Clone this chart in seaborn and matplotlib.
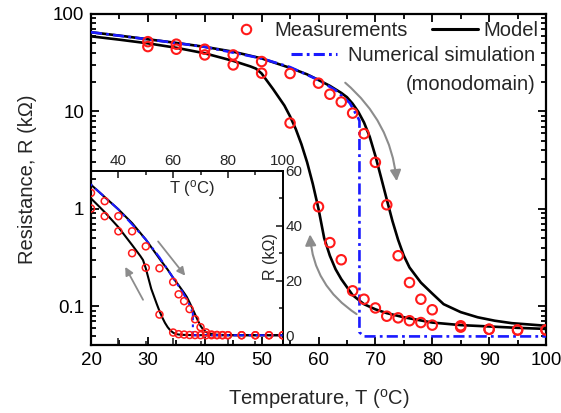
import numpy as np
import pandas as pd
import matplotlib
matplotlib.use("Agg")
import matplotlib.pyplot as plt
import seaborn as sns
from matplotlib.ticker import MultipleLocator, FixedLocator, LogLocator, FuncFormatter, NullFormatter
from matplotlib.lines import Line2D

# ---------------- data ----------------
heat_T = [30, 35, 40, 45, 50, 55, 60, 62, 64, 66, 68, 70, 72, 74, 76, 78, 80, 85, 90, 95, 100]
heat_R = [52, 49, 43.5, 38, 32.5, 24.5, 19.5, 15, 12.5, 9.6, 5.9, 3.0, 1.1, 0.33, 0.175, 0.118,
          0.092, 0.063, 0.058, 0.057, 0.057]
cool_T = [30, 35, 40, 45, 50, 55, 60, 62, 64, 66, 68, 70, 72, 74, 76, 78, 80, 85, 90, 95, 100]
cool_R = [46.3, 43.5, 38, 30, 24.7, 7.6, 1.05, 0.45, 0.30, 0.144, 0.118, 0.096, 0.079, 0.076,
          0.071, 0.068, 0.064, 0.061, 0.058, 0.057, 0.057]

model_heat_T = [20, 25, 30, 35, 40, 45, 50, 55, 58, 60, 62, 64, 65, 66, 67, 68, 69, 70, 71, 72,
                73, 74, 75, 76, 78, 80, 82, 85, 88, 91, 94, 97, 100]
model_heat_R = [65, 60, 55, 50.5, 46, 41, 35, 28, 24, 21, 18.3, 15.5, 14, 12, 9.9, 7.7, 5.5, 3.5,
                2.1, 1.25, 0.75, 0.48, 0.33, 0.25, 0.175, 0.135, 0.105, 0.087, 0.077, 0.071,
                0.067, 0.065, 0.063]
model_cool_T = [20, 25, 30, 35, 40, 45, 48, 49, 50, 52, 54, 55, 56, 57, 58, 59, 60, 61, 62, 63,
                64, 66, 68, 70, 72, 75, 80, 85, 90, 95, 100]
model_cool_R = [59, 54.5, 50, 45, 39.5, 33, 29, 27.5, 24.5, 17, 11.5, 8.9, 6.6, 4.6, 3.0, 1.8,
                1.0, 0.5, 0.33, 0.24, 0.19, 0.13, 0.105, 0.093, 0.085, 0.077, 0.068, 0.064,
                0.062, 0.060, 0.0585]
num_T = [20, 30, 40, 50, 55, 60, 63, 65.5, 67.0, 67.2, 67.2, 68.0, 100]
num_R = [65, 55, 46, 35, 28.5, 21, 16.5, 12.2, 8.5, 8.0, 0.054, 0.049, 0.049]

main_xticks = [20, 30, 40, 50, 60, 70, 80, 90, 100]
main_yticks = [0.1, 1, 10, 100]
inset_xticks = [40, 60, 80, 100]
inset_yticks = [0, 20, 40, 60]

# ---------------- style ----------------
sns.set_theme(style="ticks")
plt.rcParams["font.family"] = ["Liberation Sans", "DejaVu Sans"]
plt.rcParams["mathtext.fontset"] = "custom"
plt.rcParams["mathtext.rm"] = "Liberation Sans"
plt.rcParams["mathtext.it"] = "Liberation Sans:italic"
plt.rcParams["lines.scale_dashes"] = False

RED = "#ff1a1a"
BLUE = "#1a1aff"
GRAY = "#8c8c8c"

fig = plt.figure(figsize=(5.61, 4.13), dpi=100)
W, H = 561, 413
ax = fig.add_axes([91 / W, 1 - 345 / H, (546 - 91) / W, (345 - 14) / H])
axi = fig.add_axes([91 / W, 1 - 345 / H, (282.7 - 91) / W, (345 - 171) / H])
axi.set_facecolor("none")


def draw(a, ms, lw, mlw):
    sns.lineplot(x=num_T, y=num_R, ax=a, color=BLUE, lw=lw, sort=False, estimator=None, zorder=3)
    a.lines[-1].set_dashes((8, 3, 2, 3))
    sns.lineplot(x=model_heat_T, y=model_heat_R, ax=a, color="black", lw=lw, sort=False,
                 estimator=None, zorder=2)
    sns.lineplot(x=model_cool_T, y=model_cool_R, ax=a, color="black", lw=lw, sort=False,
                 estimator=None, zorder=2)
    for T, R in ((heat_T, heat_R), (cool_T, cool_R)):
        sns.scatterplot(x=T, y=R, ax=a, marker="o", s=ms ** 2, facecolor="none",
                        edgecolor=RED, linewidth=mlw, zorder=5)


draw(ax, 6.8, 1.9, 1.5)
ax.set_yscale("log")
ax.set_xlim(20, 100)
ax.set_ylim(0.04, 100)
ax.xaxis.set_major_locator(FixedLocator(main_xticks))
ax.xaxis.set_minor_locator(MultipleLocator(5))
ax.yaxis.set_major_locator(FixedLocator(main_yticks))
ax.yaxis.set_minor_locator(LogLocator(base=10, subs=np.arange(2, 10), numticks=20))
ax.yaxis.set_minor_formatter(NullFormatter())
ax.yaxis.set_major_formatter(FuncFormatter(lambda v, p: f"{v:g}"))
ax.tick_params(which="both", direction="in", top=True, right=True, width=1.3, colors="black",
               labelsize=13.5, pad=5)
ax.tick_params(which="major", length=6)
ax.tick_params(which="minor", length=3.5)
for s in ax.spines.values():
    s.set_linewidth(1.6)
    s.set_color("black")
ax.set_xlabel(r"Temperature, T ($^\mathrm{o}$C)", fontsize=14.5, labelpad=13)
ax.set_ylabel("Resistance, R (k\u03a9)", fontsize=14.5, labelpad=11)

# legend
h_meas = Line2D([], [], ls="none", marker="o", ms=6.8, mfc="none", mec=RED, mew=1.5)
h_model = Line2D([], [], color="black", lw=2.2)
h_num = Line2D([], [], color=BLUE, lw=2.2, dashes=(8, 3, 2, 3))
leg1 = ax.legend([h_meas, h_model], ["Measurements", "Model"], ncol=2, loc="upper right",
                 bbox_to_anchor=(0.983, 0.979), frameon=False, borderpad=0, borderaxespad=0,
                 handlelength=2.3, handletextpad=0.25, columnspacing=1.2, fontsize=14.5)
ax.add_artist(leg1)
leg2 = ax.legend([h_num], ["Numerical simulation"], loc="upper right",
                 bbox_to_anchor=(0.976, 0.902), frameon=False, borderpad=0, borderaxespad=0,
                 handlelength=2.3, handletextpad=0.55, fontsize=14.5)
ax.text(0.976, 0.7885, "(monodomain)", transform=ax.transAxes, ha="right", va="center",
        fontsize=14.5)

# curved arrows on main axes
ax.annotate("", xy=(73.75, 1.92), xytext=(64.7, 19.7),
            arrowprops=dict(arrowstyle="-|>", color=GRAY, lw=1.5, mutation_scale=16,
                            connectionstyle="arc3,rad=-0.2", shrinkA=0, shrinkB=0))
ax.annotate("", xy=(58.5, 0.547), xytext=(66.7, 0.083),
            arrowprops=dict(arrowstyle="-|>", color=GRAY, lw=1.5, mutation_scale=16,
                            connectionstyle="arc3,rad=-0.25", shrinkA=0, shrinkB=0))

# ---------------- inset ----------------
draw(axi, 5.0, 1.5, 1.1)
axi.set_xlim(30, 100)
axi.set_ylim(-3.5, 60)
axi.xaxis.set_major_locator(FixedLocator(inset_xticks))
axi.xaxis.set_minor_locator(FixedLocator([30, 50, 70, 90]))
axi.yaxis.set_major_locator(FixedLocator(inset_yticks))
axi.yaxis.set_minor_locator(FixedLocator([10, 30, 50]))
axi.xaxis.set_ticks_position("both")
axi.tick_params(axis="x", which="both", direction="in", labeltop=True, labelbottom=False,
                top=True, bottom=True, width=1.2, labelsize=11, pad=2)
axi.tick_params(axis="y", which="both", direction="in", left=False, right=True,
                labelleft=False, labelright=True, width=1.2, labelsize=11, pad=2)
axi.tick_params(which="major", length=5)
axi.tick_params(which="minor", length=3)
for s in axi.spines.values():
    s.set_linewidth(1.4)
    s.set_color("black")
axi.set_xlabel("")
axi.set_ylabel("")
axi.text(0.527, 0.90, r"T ($^\mathrm{o}$C)", transform=axi.transAxes, ha="center", va="center",
         fontsize=12)
axi.text(0.934, 0.51, "R (k\u03a9)", transform=axi.transAxes, ha="center", va="center",
         rotation=90, fontsize=11.5)
axi.annotate("", xy=(64.4, 21.8), xytext=(54.5, 34.3),
             arrowprops=dict(arrowstyle="-|>", color=GRAY, lw=1.3, mutation_scale=12,
                             shrinkA=0, shrinkB=0))
axi.annotate("", xy=(42.5, 25), xytext=(49, 13),
             arrowprops=dict(arrowstyle="-|>", color=GRAY, lw=1.3, mutation_scale=12,
                             shrinkA=0, shrinkB=0))

fig.savefig("out.png", dpi=100)
